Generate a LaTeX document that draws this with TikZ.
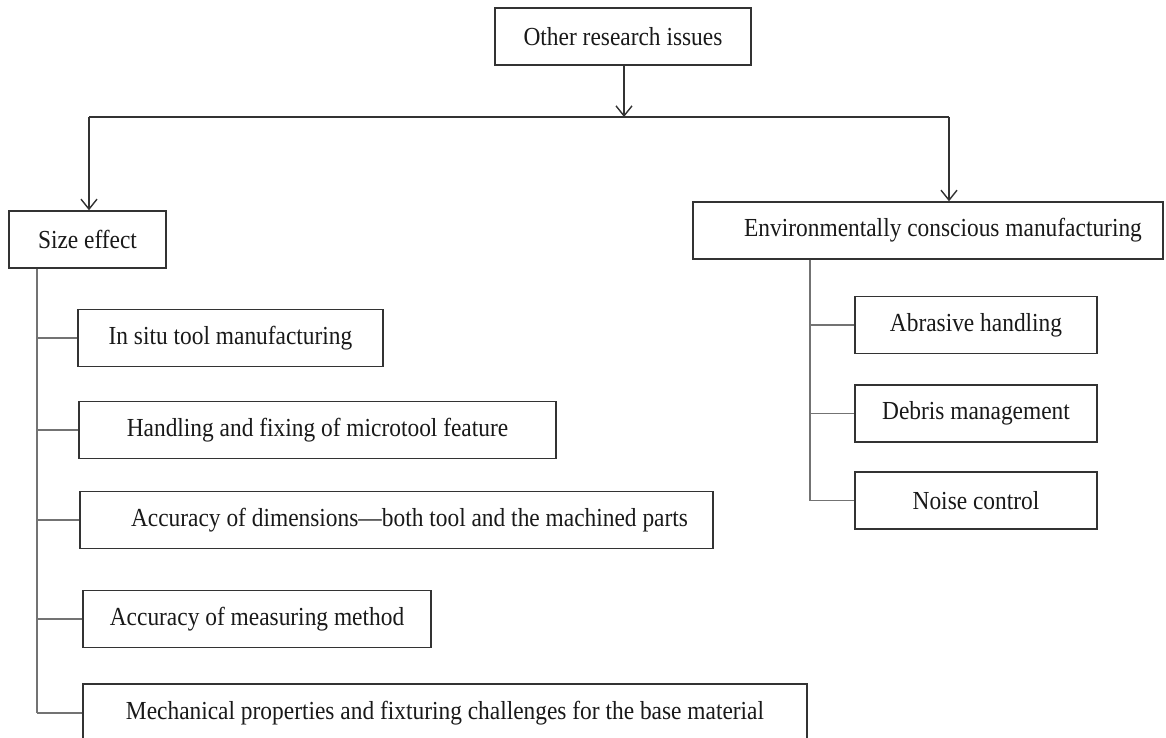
\documentclass[tikz,border=0pt]{standalone}
\usepackage{fontspec}
\setmainfont{Liberation Serif}[FakeStretch=0.9]
\usepackage{tikz}
\usetikzlibrary{arrows.meta, calc}

\begin{document}
\begin{tikzpicture}[x = 0.5pt, y = -0.5pt,
	box/.style = {draw = black!80, line width = 0.7pt, fill = white, minimum height = 28.5pt, inner sep = 0pt, font = \fontsize{13}{15}\selectfont, text = black!90},
	indent/.style = {execute at begin node = {\hspace*{#1}}},
	link/.style = {draw = black!80, line width = 0.7pt},
	branch/.style = {draw = black!55, line width = 0.7pt},
	arr/.style = {-{Straight Barb[length = 5pt, width = 8pt]}}]
	\useasboundingbox (0,0) rectangle (1166,738);
	\node[box, minimum width = 128pt] (top) at (623,36.5) {Other research issues};
	\node[box, minimum width = 78.5pt] (size) at (87.5,239.5) {Size effect};
	\node[box, minimum width = 235pt, indent = 15pt] (env) at (928,230.5) {Environmentally conscious manufacturing};
	\node[box, minimum width = 152.5pt] (insitu) at (230.5,338) {In situ tool manufacturing};
	\node[box, minimum width = 238.5pt] (handling) at (317.5,430) {Handling and fixing of microtool feature};
	\node[box, minimum width = 316.5pt, indent = 13pt] (accdim) at (396.5,520) {Accuracy of dimensions---both tool and the machined parts};
	\node[box, minimum width = 174pt] (accmeas) at (257,619) {Accuracy of measuring method};
	\node[box, minimum width = 362pt, minimum height = 29pt] (mech) at (445,713) {Mechanical properties and fixturing challenges for the base material};
	\node[box, minimum width = 121pt] (abrasive) at (976,325) {Abrasive handling};
	\node[box, minimum width = 121pt] (debris) at (976,413.5) {Debris management};
	\node[box, minimum width = 121pt] (noise) at (976,500.5) {Noise control};
	\coordinate (jm) at (624,117);
	\coordinate (jl) at (89,117);
	\coordinate (jr) at (949,117);
	\coordinate (ls) at (37,0);
	\coordinate (rs) at (810,0);
	\draw[link, arr] (top.south -| jm) -- (jm);
	\draw[link] (jl) -- (jr);
	\draw[link, arr] (jl) -- (jl |- size.north);
	\draw[link, arr] (jr) -- (jr |- env.north);
	\draw[branch] (ls |- size.south) -- (ls |- mech.west);
	\foreach \n in {insitu, handling, accdim, accmeas, mech}
		\draw[branch] (ls |- \n.west) -- (\n.west);
	\draw[branch] (rs |- env.south) -- (rs |- noise.west);
	\foreach \n in {abrasive, debris, noise}
		\draw[branch] (rs |- \n.west) -- (\n.west);
\end{tikzpicture}
\end{document}
